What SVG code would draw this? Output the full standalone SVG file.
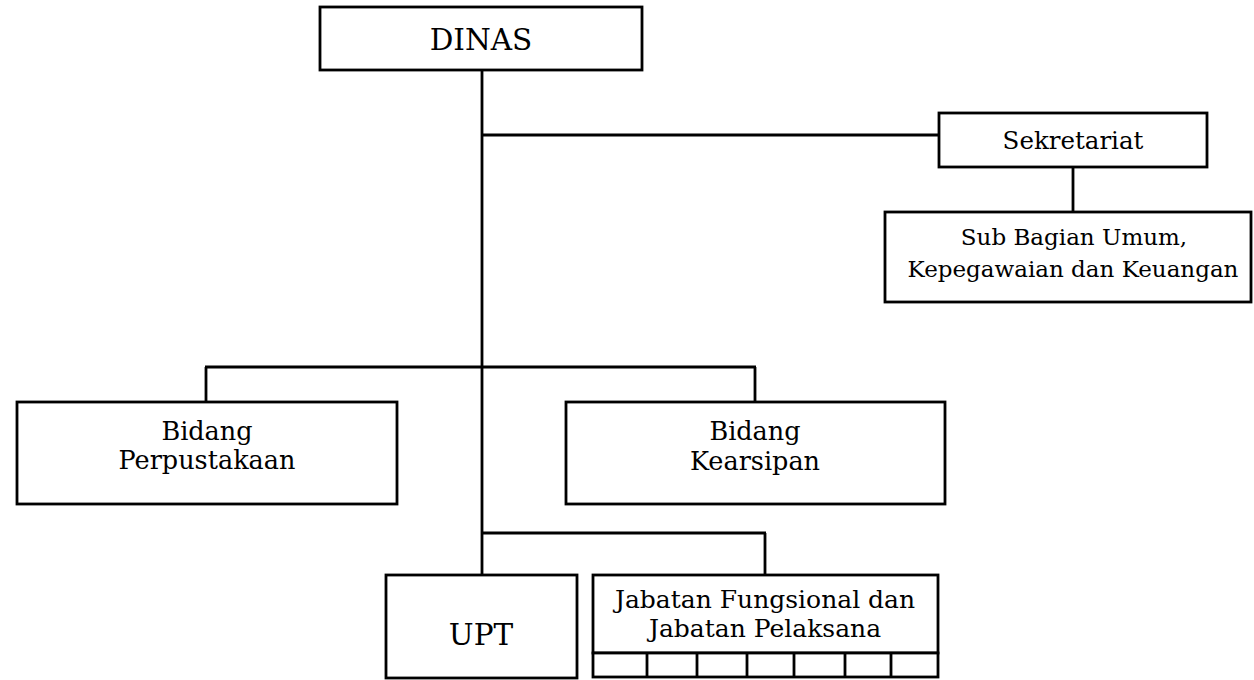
<svg xmlns="http://www.w3.org/2000/svg" width="1254" height="680" viewBox="0 0 1254 680">
<style>
rect.box{fill:#fff;stroke:#000;stroke-width:2.8}
.conn line{stroke:#000;stroke-width:2.8}
text{font-family:"DejaVu Serif","Liberation Serif",serif;fill:#000;text-anchor:middle}
.big{font-size:29.5px}
.sek{font-size:24.5px}
.bid{font-size:25.5px}
.jab{font-size:25px}
.sm{font-size:23px}
</style>
<rect width="1254" height="680" fill="#fff"/>
<g class="conn" id="connectors">
<line x1="482" y1="70" x2="482" y2="575"/>
<line x1="482" y1="135" x2="939" y2="135"/>
<line x1="1073" y1="167" x2="1073" y2="212"/>
<line x1="205" y1="367" x2="756" y2="367"/>
<line x1="206" y1="367" x2="206" y2="402"/>
<line x1="755" y1="367" x2="755" y2="402"/>
<line x1="482" y1="533" x2="766" y2="533"/>
<line x1="765" y1="533" x2="765" y2="575"/>
</g>
<g id="dinas">
<rect class="box" x="320" y="7" width="322" height="63"/>
<text class="big" x="481" y="50">DINAS</text>
</g>
<g id="sekretariat">
<rect class="box" x="939" y="113" width="268" height="54"/>
<text class="sek" x="1073" y="149">Sekretariat</text>
</g>
<g id="subbagian">
<rect class="box" x="885" y="212" width="366" height="90"/>
<text class="sm" x="1074" y="245">Sub Bagian Umum,</text>
<text class="sm" x="1073" y="277">Kepegawaian dan Keuangan</text>
</g>
<g id="perpustakaan">
<rect class="box" x="17" y="402" width="380" height="102"/>
<text class="bid" x="207" y="440">Bidang</text>
<text class="bid" x="207" y="469">Perpustakaan</text>
</g>
<g id="kearsipan">
<rect class="box" x="566" y="402" width="379" height="102"/>
<text class="bid" x="755" y="440">Bidang</text>
<text class="bid" x="755" y="470">Kearsipan</text>
</g>
<g id="upt">
<rect class="box" x="386" y="575" width="191" height="103"/>
<text class="big" x="481" y="645">UPT</text>
</g>
<g id="jabatan">
<rect class="box" x="593" y="575" width="345" height="78"/>
<rect class="box" x="593" y="653" width="345" height="24"/>
<g class="conn">
<line x1="647" y1="653" x2="647" y2="677"/>
<line x1="697" y1="653" x2="697" y2="677"/>
<line x1="747" y1="653" x2="747" y2="677"/>
<line x1="794" y1="653" x2="794" y2="677"/>
<line x1="845" y1="653" x2="845" y2="677"/>
<line x1="891" y1="653" x2="891" y2="677"/>
</g>
<text class="jab" x="765" y="608">Jabatan Fungsional dan</text>
<text class="jab" x="765" y="637">Jabatan Pelaksana</text>
</g>
</svg>
